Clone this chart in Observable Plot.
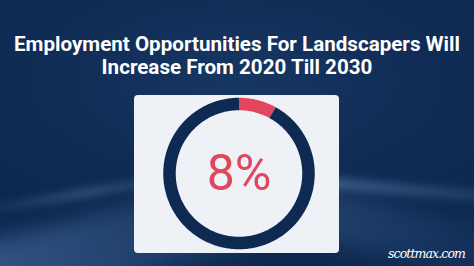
<!DOCTYPE html>
<html>
<head>
<meta charset="utf-8">
<script src="https://cdn.jsdelivr.net/npm/d3@7"></script>
<script src="https://cdn.jsdelivr.net/npm/@observablehq/plot@0.6"></script>
<style>
  html, body { margin: 0; padding: 0; }
  body {
    width: 474px; height: 266px; overflow: hidden; position: relative;
    background: radial-gradient(ellipse 70% 60% at 50% 30%, #163662 0%, #102c55 60%, #0d2850 100%);
    font-family: Roboto, "Open Sans", sans-serif;
  }
  .streak { position: absolute; filter: blur(4px); pointer-events: none; }
  #title {
    position: absolute; left: 0; top: 33px; width: 474px; text-align: center;
    color: #ffffff; font-weight: 700; font-size: 20.6px; line-height: 23px;
  }
  #card {
    position: absolute; left: 134px; top: 95px; width: 205px; height: 158px;
    background: #eef1f6; border-radius: 4px;
  }
  #card svg { display: block; }
  #brand {
    position: absolute; right: 9px; top: 246px; color: #ffffff;
    font-family: "DejaVu Serif", serif; font-style: italic; font-size: 12.5px;
    letter-spacing: -0.9px;
  }
</style>
</head>
<body>
<div class="streak" style="left:-60px; top:215px; width:320px; height:70px; transform:rotate(-14deg); background:linear-gradient(90deg, rgba(90,130,185,0.55), rgba(60,100,160,0.15)); filter:blur(10px);"></div>
<div class="streak" style="left:-40px; top:190px; width:250px; height:6px; transform:rotate(-10deg); background:linear-gradient(90deg, rgba(120,160,210,0.0), rgba(120,160,210,0.45), rgba(120,160,210,0.0));"></div>
<div class="streak" style="left:300px; top:185px; width:220px; height:10px; transform:rotate(5deg); background:linear-gradient(90deg, rgba(120,160,210,0.5), rgba(120,160,210,0.1));"></div>
<div class="streak" style="left:300px; top:210px; width:220px; height:50px; transform:rotate(12deg); background:linear-gradient(90deg, rgba(70,110,165,0.35), rgba(70,110,165,0.05)); filter:blur(10px);"></div>
<div id="title">Employment Opportunities For Landscapers Will<br>Increase From 2020 Till 2030</div>
<div id="card"></div>
<div id="brand">scottmax.com</div>
<script>
// Share of the ring: growth versus the rest of the circle
const segments = ["Growth", "Rest"];
const shares = [8, 92];
const segmentColors = ["#e2465c", "#0e2a52"];
const centerLabel = `${shares[0]}%`;

// Turn each share into an arc path in unit-circle coordinates (clockwise from 12 o'clock)
const pie = d3.pie().sort(null).value(d => d.share);
const arcs = pie(segments.map((name, i) => ({name, share: shares[i]})));
const ringPoints = arcs.flatMap(a => {
  const steps = Math.max(8, Math.ceil((a.endAngle - a.startAngle) / (Math.PI / 180)));
  return d3.range(steps + 1).map(k => {
    const t = a.startAngle + (a.endAngle - a.startAngle) * k / steps;
    return {name: a.data.name, x: Math.sin(t), y: Math.cos(t)};
  });
});

const chart = Plot.plot({
  width: 205,
  height: 158,
  marginLeft: 35,
  marginRight: 31,
  marginTop: 8.5,
  marginBottom: 10.5,
  x: {domain: [-1, 1], axis: null},
  y: {domain: [-1, 1], axis: null},
  color: {domain: segments, range: segmentColors},
  style: {background: "transparent", overflow: "visible"},
  marks: [
    Plot.line(ringPoints, {x: "x", y: "y", z: "name", stroke: "name", strokeWidth: 12.5, strokeLinecap: "butt", strokeLinejoin: "round", curve: "linear"}),
    Plot.text([centerLabel], {x: () => 0, y: () => 0, text: d => d, fill: segmentColors[0], fontSize: 50, fontWeight: 400, fontFamily: "Roboto", dy: 0})
  ]
});
document.getElementById("card").appendChild(chart);
</script>
</body>
</html>
